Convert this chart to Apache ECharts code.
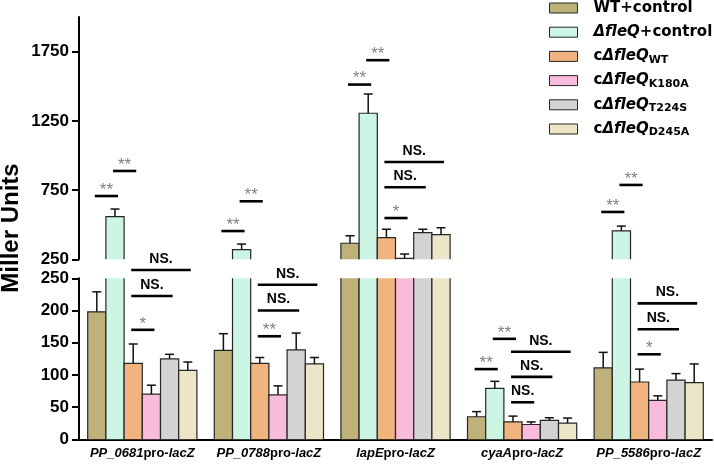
<!DOCTYPE html>
<html><head><meta charset="utf-8">
<script src="https://cdn.jsdelivr.net/npm/echarts@6/dist/echarts.min.js"></script>
<style>html,body{margin:0;padding:0;background:#fff}#chart{width:714px;height:466px}</style>
</head><body><div id="chart"></div>
<script>
// ---------- data ----------
const promoterGenes = ['PP_0681', 'PP_0788', 'lapE', 'cyaA', 'PP_5586'];
const categories = promoterGenes.map(g => g + 'pro-lacZ');
const seriesNames = ['WT+control', 'ΔfleQ+control', 'cΔfleQWT', 'cΔfleQK180A', 'cΔfleQT224S', 'cΔfleQD245A'];
const legendSub = ['', '', 'WT', 'K180A', 'T224S', 'D245A'];

const wtControl     = [198, 138, 366, 35, 111];
const wtControlErr  = [31, 26, 54, 8, 24];
const fleqControl    = [558, 320, 1305, 79, 455];
const fleqControlErr = [55, 40, 139, 11, 35];
const cWT     = [118, 118, 406, 27, 89];
const cWTErr  = [30, 9, 61, 9, 20];
const cK180A    = [70, 69, 257, 23, 60.5];
const cK180AErr = [14, 14, 31, 4, 7];
const cT224S    = [125, 139, 442, 29.5, 92];
const cT224SErr = [7, 26, 25, 4, 10];
const cD245A    = [107, 117, 428, 25, 88];
const cD245AErr = [13, 10, 50, 8, 29];

const upperRange = [250, 2000];
const lowerRange = [0, 250];
const upperTicks = [250, 750, 1250, 1750];
const lowerTicks = [0, 50, 100, 150, 200, 250];

// significance: [group, fromBar, toBar, level (axis units of its panel), label]
const sigUpper = [
  [0, 0, 1, 707, '**'], [0, 1, 2, 888, '**'],
  [1, 0, 1, 454, '**'], [1, 1, 2, 669, '**'],
  [2, 0, 1, 1512, '**'], [2, 1, 2, 1688, '**'],
  [2, 2, 5, 953, 'NS.'], [2, 2, 4, 770, 'NS.'], [2, 2, 3, 548, '*'],
  [4, 0, 1, 592, '**'], [4, 1, 2, 787, '**']
];
const sigLower = [
  [0, 2, 5, 263, 'NS.'], [0, 2, 4, 222.5, 'NS.'], [0, 2, 3, 170, '*'],
  [1, 2, 5, 240, 'NS.'], [1, 2, 4, 200, 'NS.'], [1, 2, 3, 160, '**'],
  [3, 0, 1, 109, '**'], [3, 1, 2, 156, '**'],
  [3, 2, 5, 136, 'NS.'], [3, 2, 4, 97, 'NS.'], [3, 2, 3, 57.5, 'NS.'],
  [4, 2, 5, 211, 'NS.'], [4, 2, 4, 171, 'NS.'], [4, 2, 3, 132, '*']
];

// ---------- styles ----------
const valueSets = [wtControl, fleqControl, cWT, cK180A, cT224S, cD245A];
const errSets = [wtControlErr, fleqControlErr, cWTErr, cK180AErr, cT224SErr, cD245AErr];
const colors = ['#BEB27A', '#CCF6E3', '#F1B47E', '#F8BCDA', '#D3D3D3', '#ECE5C8'];
const N = valueSets.length;
const CAT_GAP = 0.1374;
const FONT = "'Liberation Sans', Arial, sans-serif";

function barGeom(api) {
  const band = api.size([1, 0])[0];
  return band * (1 - CAT_GAP) / N;
}

function makeBarRender(k, lo, hi) {
  return function (params, api) {
    const cat = api.value(0), v = api.value(1), e = api.value(2);
    if (!(v > lo)) return null;
    const bw = barGeom(api);
    const base = api.coord([cat, lo]);
    const cx = base[0] + (k - (N - 1) / 2) * bw;
    const x0 = cx - bw / 2, x1 = cx + bw / 2;
    const yBase = base[1];
    const topVisible = v <= hi;
    const yTop = api.coord([cat, Math.min(v, hi)])[1];
    const stroke = { stroke: '#262626', lineWidth: 1.2, fill: 'none' };
    const children = [
      { type: 'rect', shape: { x: x0, y: yTop, width: bw, height: yBase - yTop }, style: { fill: api.visual('color') } }
    ];
    if (topVisible) {
      children.push({ type: 'polyline', shape: { points: [[x0, yBase], [x0, yTop], [x1, yTop], [x1, yBase]] }, style: stroke });
      if (e > 0) {
        const yErr = api.coord([cat, Math.min(v + e, hi)])[1];
        children.push({ type: 'line', shape: { x1: cx, y1: yTop, x2: cx, y2: yErr }, style: { stroke: '#111', lineWidth: 1.5 } });
        if (v + e <= hi) {
          children.push({ type: 'line', shape: { x1: cx - 4.5, y1: yErr, x2: cx + 4.5, y2: yErr }, style: { stroke: '#111', lineWidth: 1.5 } });
        }
      }
    } else {
      children.push({ type: 'line', shape: { x1: x0, y1: yBase, x2: x0, y2: yTop }, style: stroke });
      children.push({ type: 'line', shape: { x1: x1, y1: yBase, x2: x1, y2: yTop }, style: stroke });
    }
    return { type: 'group', children: children };
  };
}

function makeSigRender(list) {
  return function (params, api) {
    const a = list[params.dataIndex];
    const bw = barGeom(api);
    const c = api.coord([a[0], a[3]]);
    const xFrom = c[0] + (a[1] - (N - 1) / 2) * bw - 2;
    const xTo = c[0] + (a[2] - (N - 1) / 2) * bw + 3;
    const y = c[1];
    const isStar = a[4].indexOf('*') >= 0;
    return {
      type: 'group', children: [
        { type: 'line', shape: { x1: xFrom, y1: y, x2: xTo, y2: y }, style: { stroke: '#000', lineWidth: 2.6 } },
        {
          type: 'text', x: (xFrom + xTo) / 2, y: y - (isStar ? 6 : 11),
          style: {
            text: a[4], fill: isStar ? '#808080' : '#000',
            fontSize: isStar ? 17 : 14, fontWeight: isStar ? 'normal' : 'bold', fontFamily: FONT,
            align: 'center', verticalAlign: 'middle'
          }
        }
      ]
    };
  };
}

const series = [];
[[0, upperRange], [1, lowerRange]].forEach(([gi, rng]) => {
  valueSets.forEach((vals, k) => {
    series.push({
      type: 'custom', name: seriesNames[k], xAxisIndex: gi, yAxisIndex: gi,
      itemStyle: { color: colors[k] },
      renderItem: makeBarRender(k, rng[0], rng[1]),
      encode: { x: 0, y: 1 },
      data: vals.map((v, i) => [i, v, errSets[k][i]]),
      z: 2, silent: true
    });
  });
});
series.push({
  type: 'custom', name: 'sigUpper', xAxisIndex: 0, yAxisIndex: 0,
  renderItem: makeSigRender(sigUpper), encode: { x: 0, y: 1 },
  data: sigUpper.map(a => [a[0], a[3]]), z: 5, silent: true
});
series.push({
  type: 'custom', name: 'sigLower', xAxisIndex: 1, yAxisIndex: 1,
  renderItem: makeSigRender(sigLower), encode: { x: 0, y: 1 },
  data: sigLower.map(a => [a[0], a[3]]), z: 5, silent: true
});

const legendText = { fontFamily: 'DejaVu Sans', fontWeight: 'bold', fontSize: 15, lineHeight: 18, color: '#000' };

const yAxisCommon = {
  type: 'value',
  axisLine: { show: true, lineStyle: { color: '#000', width: 2 } },
  splitLine: { show: false },
  axisTick: { show: true, length: 7, lineStyle: { color: '#000', width: 2 } },
  axisLabel: { margin: 10, color: '#000', fontFamily: FONT, fontWeight: 'bold', fontSize: 17, formatter: v => String(v) }
};

const option = {
  animation: false,
  backgroundColor: '#fff',
  grid: [
    { left: 79, right: 2, top: 17, height: 242.3 },
    { left: 79, right: 2, top: 278.3, height: 161 }
  ],
  xAxis: [
    { gridIndex: 0, type: 'category', data: categories, axisLine: { show: false }, axisTick: { show: false }, axisLabel: { show: false }, splitLine: { show: false } },
    {
      gridIndex: 1, type: 'category', data: categories,
      axisLine: { show: true, lineStyle: { color: '#000', width: 2 } },
      axisTick: { show: false }, splitLine: { show: false },
      axisLabel: {
        margin: 8, interval: 0,
        formatter: function (val, idx) { return '{it|' + promoterGenes[idx] + '}{n|pro-}{it|lacZ}'; },
        rich: {
          it: { fontFamily: FONT, fontWeight: 'bold', fontStyle: 'italic', fontSize: 13, color: '#000' },
          n: { fontFamily: FONT, fontWeight: 'bold', fontSize: 13, color: '#000' }
        }
      }
    }
  ],
  yAxis: [
    Object.assign({}, yAxisCommon, {
      gridIndex: 0, min: upperRange[0], max: upperRange[1],
      axisTick: Object.assign({}, yAxisCommon.axisTick, { customValues: upperTicks }),
      axisLabel: Object.assign({}, yAxisCommon.axisLabel, { customValues: upperTicks })
    }),
    Object.assign({}, yAxisCommon, {
      gridIndex: 1, min: lowerRange[0], max: lowerRange[1],
      axisTick: Object.assign({}, yAxisCommon.axisTick, { customValues: lowerTicks }),
      axisLabel: Object.assign({}, yAxisCommon.axisLabel, { customValues: lowerTicks })
    })
  ],
  legend: {
    data: seriesNames, orient: 'vertical', left: 549, top: -1, padding: 0, itemGap: 6.2,
    icon: 'rect', itemWidth: 28, itemHeight: 10, selectedMode: false,
    itemStyle: { borderColor: '#262626', borderWidth: 1 },
    textStyle: Object.assign({}, legendText, {
      rich: {
        sp: { width: 11 },
        n: legendText,
        it: Object.assign({}, legendText, { fontStyle: 'italic' }),
        sub: Object.assign({}, legendText, { fontSize: 11, lineHeight: 6, verticalAlign: 'bottom' })
      }
    }),
    formatter: function (name) {
      const i = seriesNames.indexOf(name);
      if (i === 0) return '{sp| }{n|' + name + '}';
      if (i === 1) return '{sp| }{it|ΔfleQ}{n|+control}';
      return '{sp| }{n|c}{it|ΔfleQ}{sub|' + legendSub[i] + '}';
    }
  },
  graphic: [{
    type: 'text', x: 11, y: 228, rotation: Math.PI / 2,
    style: { text: 'Miller Units', fill: '#000', fontFamily: FONT, fontWeight: 'bold', fontSize: 24, align: 'center', verticalAlign: 'middle' }
  }],
  series: series
};

const chart = echarts.init(document.getElementById('chart'), null, { renderer: 'canvas' });
chart.setOption(option);
</script>
</body></html>
